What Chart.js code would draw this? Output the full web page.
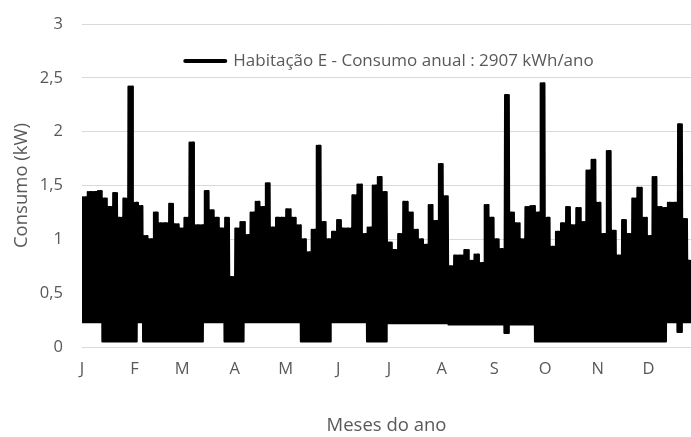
<!DOCTYPE html>
<html>
<head>
<meta charset="utf-8">
<script src="https://cdn.jsdelivr.net/npm/chart.js@4.4.1/dist/chart.umd.min.js"></script>
<style>
  html, body { margin: 0; padding: 0; background: #fff; }
  #wrap { width: 691px; height: 437px; }
</style>
</head>
<body>
<div id="wrap"><canvas id="consumo"></canvas></div>
<script>
"use strict";

// month labels and where they start (day of year)
var monthLabels = ["J", "F", "M", "A", "M", "J", "J", "A", "S", "O", "N", "D"];
var monthStarts = [0, 31, 59, 90, 120, 151, 181, 212, 243, 273, 304, 334];
var yTickLabels = ["0", "0,5", "1", "1,5", "2", "2,5", "3"];

// the trace in 3-day blocks: daily peak and night base level (kW)
var blockDays = 3;
var peakKW = [
    1.39, 1.44, 1.44, 1.45, 1.38, 1.30, 1.43, 1.20, 1.38, 2.42,
    1.34, 1.31, 1.03, 1.00, 1.25, 1.15, 1.15, 1.33, 1.14, 1.10,
    1.20, 1.90, 1.13, 1.13, 1.45, 1.27, 1.20, 1.10, 1.20, 0.65,
    1.10, 1.16, 1.04, 1.25, 1.35, 1.30, 1.52, 1.11, 1.20, 1.20,
    1.28, 1.20, 1.13, 1.00, 0.88, 1.09, 1.87, 1.16, 1.00, 1.07,
    1.18, 1.10, 1.10, 1.41, 1.51, 1.05, 1.11, 1.50, 1.58, 1.44,
    0.97, 0.90, 1.05, 1.35, 1.25, 1.09, 1.00, 0.95, 1.32, 1.17,
    1.70, 1.40, 0.75, 0.85, 0.85, 0.90, 0.80, 0.86, 0.78, 1.32,
    1.20, 1.00, 0.91, 2.34, 1.25, 1.15, 1.00, 1.30, 1.31, 1.25,
    2.45, 1.20, 0.93, 1.07, 1.15, 1.30, 1.13, 1.29, 1.16, 1.64,
    1.74, 1.34, 1.05, 1.82, 1.08, 0.85, 1.18, 1.05, 1.38, 1.48,
    1.20, 1.03, 1.58, 1.30, 1.29, 1.34, 1.34, 2.07, 1.19, 0.80
];
var baseKW = [
    0.23, 0.23, 0.23, 0.23, 0.05, 0.05, 0.05, 0.05, 0.05, 0.05,
    0.05, 0.23, 0.05, 0.05, 0.05, 0.05, 0.05, 0.05, 0.05, 0.05,
    0.05, 0.05, 0.05, 0.05, 0.23, 0.23, 0.23, 0.23, 0.05, 0.05,
    0.05, 0.05, 0.23, 0.23, 0.23, 0.23, 0.23, 0.23, 0.23, 0.23,
    0.23, 0.23, 0.23, 0.05, 0.05, 0.05, 0.05, 0.05, 0.05, 0.23,
    0.23, 0.23, 0.23, 0.23, 0.23, 0.23, 0.05, 0.05, 0.05, 0.05,
    0.22, 0.22, 0.22, 0.22, 0.22, 0.22, 0.22, 0.22, 0.22, 0.22,
    0.22, 0.22, 0.21, 0.21, 0.21, 0.21, 0.21, 0.21, 0.21, 0.21,
    0.21, 0.21, 0.21, 0.13, 0.21, 0.21, 0.21, 0.21, 0.21, 0.05,
    0.05, 0.05, 0.05, 0.05, 0.05, 0.05, 0.05, 0.05, 0.05, 0.05,
    0.05, 0.05, 0.05, 0.05, 0.05, 0.05, 0.05, 0.05, 0.05, 0.05,
    0.05, 0.05, 0.05, 0.05, 0.05, 0.23, 0.23, 0.14, 0.23, 0.23
];
var seriesLabel = "Habitação E - Consumo anual : 2907 kWh/ano";

var textGrey = "#595959";
var fontFamily = "'Open Sans', sans-serif";

// day/night swing inside each block, four cycles so the band reads solid
var swingsPerBlock = 4;
var trace = [];
for (var i = 0; i < peakKW.length; i++) {
    var step = blockDays / (swingsPerBlock * 2);
    for (var k = 0; k < swingsPerBlock * 2; k++) {
        trace.push({ x: i * blockDays + k * step, y: k % 2 ? peakKW[i] : baseKW[i] });
    }
}

/* Excel puts the legend inside the plot, so it is drawn here by hand */
var overlayLegend = {
    id: "overlayLegend",
    afterDraw: function(chart) {
        var ctx = chart.ctx;
        var area = chart.chartArea;
        var ds = chart.data.datasets[0];
        ctx.save();
        ctx.font = "17px " + fontFamily;
        var textW = ctx.measureText(ds.label).width;
        var sample = 44, gap = 6;
        var total = sample + gap + textW;
        var x0 = (area.left + area.right) / 2 + 2 - total / 2;
        var y = area.top + 37;
        ctx.strokeStyle = "#000";
        ctx.lineWidth = 4;
        ctx.lineCap = "round";
        ctx.beginPath();
        ctx.moveTo(x0 + 2, y);
        ctx.lineTo(x0 + sample - 2, y);
        ctx.stroke();
        ctx.fillStyle = textGrey;
        ctx.textBaseline = "middle";
        ctx.fillText(ds.label, x0 + sample + gap, y);
        ctx.restore();
    }
};

new Chart(document.getElementById("consumo"), {
    type: "line",
    data: {
        datasets: [{
            label: seriesLabel,
            data: trace,
            borderColor: "#000000",
            backgroundColor: "#000000",
            borderWidth: 2,
            borderJoinStyle: "round",
            pointRadius: 0,
            tension: 0,
            fill: false
        }]
    },
    options: {
        responsive: true,
        maintainAspectRatio: false,
        animation: false,
        layout: {
            padding: { top: 24, right: 0, bottom: 0, left: 0 }
        },
        scales: {
            x: {
                type: "linear",
                min: 0,
                max: 359,
                grid: { display: false },
                border: { display: false },
                afterBuildTicks: function(scale) {
                    scale.ticks = monthStarts.map(function(d) { return { value: d }; });
                },
                afterFit: function(scale) {
                    scale.height = 90;
                },
                ticks: {
                    autoSkip: false,
                    maxRotation: 0,
                    padding: 4,
                    color: textGrey,
                    font: { family: fontFamily, size: 16.5 },
                    callback: function(value) {
                        return monthLabels[monthStarts.indexOf(value)];
                    }
                },
                title: {
                    display: true,
                    text: "Meses do ano",
                    color: textGrey,
                    font: { family: fontFamily, size: 18.5 },
                    padding: { top: 0, bottom: 0 }
                }
            },
            y: {
                min: 0,
                max: 3,
                grid: { color: "#d9d9d9", lineWidth: 1, drawTicks: false },
                border: { display: false },
                afterFit: function(scale) {
                    scale.width = 82;
                    scale.paddingTop = 0;
                    scale.paddingBottom = 0;
                },
                ticks: {
                    stepSize: 0.5,
                    padding: 19,
                    color: textGrey,
                    font: { family: fontFamily, size: 16.5 },
                    callback: function(value, index) {
                        return yTickLabels[index];
                    }
                },
                title: {
                    display: true,
                    text: "Consumo (kW)",
                    color: textGrey,
                    font: { family: fontFamily, size: 18.5 },
                    padding: { top: 11, bottom: 0 }
                }
            }
        },
        plugins: {
            legend: { display: false },
            tooltip: { enabled: false }
        }
    },
    plugins: [overlayLegend]
});
</script>
</body>
</html>
